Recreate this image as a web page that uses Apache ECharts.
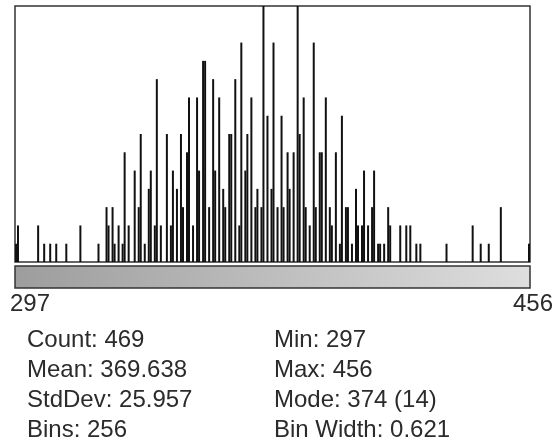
<!DOCTYPE html>
<html>
<head>
<meta charset="utf-8">
<script src="https://cdn.jsdelivr.net/npm/echarts@6/dist/echarts.min.js"></script>
<style>
  html, body { margin: 0; padding: 0; background: #fff; }
  #chart { width: 554px; height: 443px; }
</style>
</head>
<body>
<div id="chart"></div>
<script>
// pixel values found in the selection, and how often each one occurs
var values = [
  297, 298, 304, 306, 308, 310, 313, 317, 323,
  325, 326, 327, 328, 329, 330, 331, 332,
  334, 335, 336, 337, 338, 339, 340, 341, 342,
  344, 345, 346, 347, 348, 349, 350, 351, 352,
  353, 354, 355, 356, 357, 358, 359, 360, 361, 362,
  363, 364, 365, 366, 367, 368, 369, 370, 371, 372,
  373, 374, 375, 376, 377, 378, 379, 380, 381, 382,
  383, 384, 385, 386, 387, 388, 389, 390, 391, 392,
  393, 394, 395, 396, 397, 398, 399, 400, 401, 402,
  403, 404, 405, 406, 407, 408, 409, 410, 411, 412, 413,
  416, 418, 419, 421, 422, 430, 438, 441, 443, 447, 456
];
var counts = [
  1, 2, 2, 1, 1, 1, 1, 2, 1,
  3, 2, 3, 1, 2, 1, 6, 2,
  5, 3, 7, 1, 4, 5, 2, 10, 2,
  7, 2, 5, 4, 7, 3, 6, 9, 2,
  9, 5, 11, 11, 3, 10, 5, 9, 4, 3,
  7, 7, 10, 2, 12, 5, 7, 9, 3, 4,
  3, 14, 8, 4, 12, 3, 8, 3, 6, 4,
  6, 14, 7, 9, 3, 2, 12, 3, 6, 6,
  9, 3, 2, 6, 1, 8, 3, 3, 1, 4,
  2, 2, 5, 2, 3, 5, 1, 1, 1, 3, 2,
  2, 2, 2, 1, 1, 1, 2, 1, 1, 3, 1
];
var histMin = 297;
var histMax = 456;
var nBins = 256;
var rangeLabels = ['297', '456'];
var statsLeft = ['Count: 469', 'Mean: 369.638', 'StdDev: 25.957', 'Bins: 256'];
var statsRight = ['Min: 297', 'Max: 456', 'Mode: 374 (14)', 'Bin Width: 0.621'];

// bin the values like ImageJ does: index = (int)((v - min) * nBins / (max - min))
var bins = [];
for (var i = 0; i < nBins; i++) bins.push(0);
values.forEach(function (v, k) {
  var idx = Math.floor((v - histMin) * nBins / (histMax - histMin));
  if (idx >= nBins) idx = nBins - 1;
  bins[idx] += counts[k];
});
var binNames = bins.map(function (c, i) {
  return (histMin + i * (histMax - histMin) / nBins).toFixed(3);
});

var font = '24px "Liberation Sans", Arial, sans-serif';
var textColor = '#2b2b2b';
var rowY = [340, 370, 400, 430];

var graphics = [
  {
    type: 'rect',
    shape: { x: 15, y: 266, width: 515, height: 22 },
    style: {
      fill: new echarts.graphic.LinearGradient(0, 0, 1, 0, [
        { offset: 0, color: '#9d9d9d' },
        { offset: 1, color: '#dedede' }
      ]),
      stroke: '#333',
      lineWidth: 1.5
    }
  },
  {
    type: 'text',
    style: { x: 10, y: 304, text: rangeLabels[0], font: font, fill: textColor, verticalAlign: 'middle' }
  },
  {
    type: 'text',
    style: { x: 553, y: 304, text: rangeLabels[1], font: font, fill: textColor, align: 'right', verticalAlign: 'middle' }
  }
];
statsLeft.forEach(function (t, r) {
  graphics.push({
    type: 'text',
    style: { x: 27, y: rowY[r], text: t, font: font, fill: textColor, verticalAlign: 'middle' }
  });
});
statsRight.forEach(function (t, r) {
  graphics.push({
    type: 'text',
    style: { x: 274, y: rowY[r], text: t, font: font, fill: textColor, verticalAlign: 'middle' }
  });
});

var chart = echarts.init(document.getElementById('chart'));
chart.setOption({
  animation: false,
  backgroundColor: '#fff',
  grid: {
    left: 15, top: 6, width: 515, height: 256,
    show: true, borderColor: '#333', borderWidth: 1.5, backgroundColor: '#fff'
  },
  xAxis: {
    type: 'category',
    data: binNames,
    show: false
  },
  yAxis: {
    type: 'value',
    min: 0,
    max: Math.max.apply(null, bins),
    show: false,
    splitLine: { show: false }
  },
  series: [{
    type: 'bar',
    data: bins,
    barWidth: 2,
    silent: true,
    itemStyle: { color: '#111' }
  }],
  graphic: graphics
});
</script>
</body>
</html>
